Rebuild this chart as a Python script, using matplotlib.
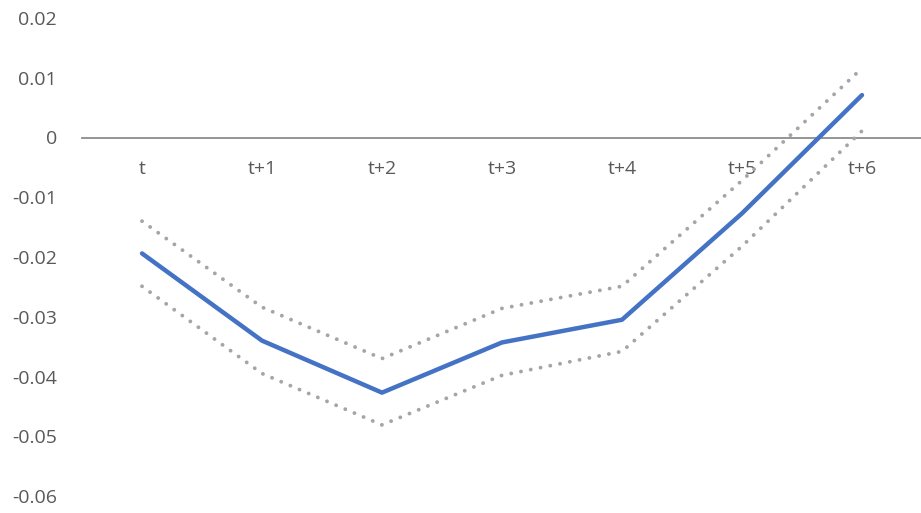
import matplotlib.pyplot as plt

# Data
periods = ["t", "t+1", "t+2", "t+3", "t+4", "t+5", "t+6"]
estimate = [-0.0194, -0.0340, -0.0427, -0.0343, -0.0305, -0.0127, 0.0071]
upper = [-0.0140, -0.0284, -0.0370, -0.0286, -0.0249, -0.0072, 0.0116]
lower = [-0.0249, -0.0395, -0.0481, -0.0398, -0.0358, -0.0182, 0.0011]

plt.rcParams["font.family"] = ["Open Sans", "DejaVu Sans"]

fig = plt.figure(figsize=(9.21, 5.13), dpi=100)
ax = fig.add_axes([82 / 921, 1 - 496 / 513, 840 / 921, 478 / 513])

x = range(len(periods))
dots = dict(color="#A5A5A5", linewidth=2.8, linestyle=(0, (0.01, 2.55)),
            dash_capstyle="round")
ax.plot(x, upper, **dots)
ax.plot(x, lower, **dots)
ax.plot(x, estimate, color="#4472C4", linewidth=3.2, solid_capstyle="round")

ax.set_xlim(-0.5, len(periods) - 0.5)
ax.set_ylim(-0.06, 0.02)
ax.set_yticks([0.02, 0.01, 0, -0.01, -0.02, -0.03, -0.04, -0.05, -0.06])
ax.set_yticklabels(["0.02", "0.01", "0", "-0.01", "-0.02", "-0.03",
                    "-0.04", "-0.05", "-0.06"])
ax.set_xticks(list(x))
ax.set_xticklabels(periods)

for side in ["top", "right", "left"]:
    ax.spines[side].set_visible(False)
ax.spines["bottom"].set_position(("data", 0))
ax.spines["bottom"].set_color("#8C8C8C")
ax.spines["bottom"].set_linewidth(1.3)
ax.spines["bottom"].set_zorder(0)

ax.tick_params(axis="x", length=0, pad=16, labelsize=14, labelcolor="#595959")
ax.tick_params(axis="y", length=0, pad=18, labelsize=14, labelcolor="#595959")

fig.savefig("out.png", dpi=100)
